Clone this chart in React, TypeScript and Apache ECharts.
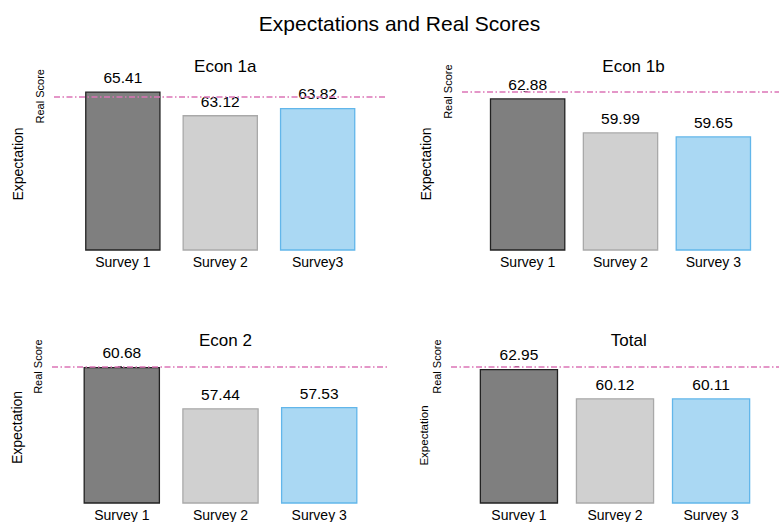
import React, { useEffect, useRef } from "react";
import * as echarts from "echarts";

// ---- data ----
const mainTitle = "Expectations and Real Scores";
const panelTitles = ["Econ 1a", "Econ 1b", "Econ 2", "Total"];
const categoriesEcon1a = ["Survey 1", "Survey 2", "Survey3"];
const categories = ["Survey 1", "Survey 2", "Survey 3"];
const econ1a = [65.41, 63.12, 63.82];
const econ1b = [62.88, 59.99, 59.65];
const econ2 = [60.68, 57.44, 57.53];
const total = [62.95, 60.12, 60.11];
const realScores = [64.95, 63.44, 60.7, 63.17];
const yAxisName = "Expectation";
const realScoreLabel = "Real Score";

// ---- layout / style ----
const FONT = "'Liberation Sans', Arial, Helvetica, sans-serif";
const panels = [
  { values: econ1a, cats: categoriesEcon1a, left: 54, width: 332.5, top: 78, height: 172, yMax: 66.73, nameSize: 14, nameGap: 29, namePad: [0, 0, 0, 0] },
  { values: econ1b, cats: categories, left: 462, width: 333, top: 78, height: 172, yMax: 64.6, nameSize: 14, nameGap: 29, namePad: [0, 0, 0, 0] },
  { values: econ2, cats: categories, left: 52, width: 337, top: 352, height: 151.3, yMax: 61.85, nameSize: 14, nameGap: 28, namePad: [0, 0, 0, 0] },
  { values: total, cats: categories, left: 451, width: 345.5, top: 352, height: 151.3, yMax: 64.58, nameSize: 11.5, nameGap: 16, namePad: [0, 16, 0, 0] },
];
const barStyles = [
  { color: "#7f7f7f", borderColor: "#222222" },
  { color: "#d0d0d0", borderColor: "#a9a9a9" },
  { color: "#aad8f3", borderColor: "#62b6ea" },
];
const X_MIN = -0.707;
const X_MAX = 2.707;

export default function App() {
  const ref = useRef<HTMLDivElement>(null);
  useEffect(() => {
    if (!ref.current) return;
    const chart = echarts.init(ref.current, undefined, { renderer: "svg" });
    const titles: any[] = [
      {
        text: mainTitle,
        left: 394.5,
        textAlign: "center",
        top: 8,
        textStyle: { fontFamily: FONT, fontSize: 21, fontWeight: "normal", color: "#000" },
      },
    ];
    const grids: any[] = [];
    const xAxes: any[] = [];
    const yAxes: any[] = [];
    const series: any[] = [];
    panels.forEach((p, i) => {
      const spacing = p.width / (X_MAX - X_MIN);
      titles.push({
        text: panelTitles[i],
        left: p.left + p.width / 2,
        textAlign: "center",
        top: p.top - 25,
        textStyle: { fontFamily: FONT, fontSize: 17, fontWeight: "normal", color: "#000" },
      });
      grids.push({ left: p.left, top: p.top, width: p.width, height: p.height, containLabel: false });
      xAxes.push({
        type: "value",
        gridIndex: i,
        min: X_MIN,
        max: X_MAX,
        axisLine: { show: false },
        axisTick: { show: false },
        splitLine: { show: false },
        axisLabel: {
          customValues: [0, 1, 2],
          formatter: (v: number) => p.cats[Math.round(v)],
          fontFamily: FONT,
          fontSize: 14,
          color: "#000",
          margin: 5,
        },
      });
      yAxes.push({
        type: "value",
        gridIndex: i,
        min: 50,
        max: p.yMax,
        name: yAxisName,
        nameLocation: "middle",
        nameRotate: 90,
        nameGap: p.nameGap,
        nameTextStyle: { fontFamily: FONT, fontSize: p.nameSize, color: "#000", padding: p.namePad },
        axisLine: { show: false },
        splitLine: { show: false },
        axisTick: {
          show: true,
          customValues: [realScores[i]],
          length: 4,
          lineStyle: { color: "#333", width: 1 },
        },
        axisLabel: {
          customValues: [realScores[i]],
          formatter: () => realScoreLabel,
          rotate: 90,
          fontFamily: FONT,
          fontSize: 11,
          color: "#000",
          margin: 9,
        },
      });
      series.push({
        type: "bar",
        xAxisIndex: i,
        yAxisIndex: i,
        barWidth: spacing * 0.775,
        data: p.values.map((v, k) => ({
          value: [k, v],
          itemStyle: { color: barStyles[k].color, borderColor: barStyles[k].borderColor, borderWidth: 1.3 },
        })),
        label: {
          show: true,
          position: "top",
          distance: 6,
          fontFamily: FONT,
          fontSize: 15.5,
          color: "#000",
          formatter: (d: any) => d.value[1].toFixed(2),
        },
        markLine: {
          silent: true,
          symbol: "none",
          label: { show: false },
          lineStyle: { color: "#dc74b6", width: 1.6, type: [6, 2.5, 1.5, 2.5] },
          data: [{ yAxis: realScores[i] }],
        },
      });
    });
    chart.setOption({
      animation: false,
      backgroundColor: "#fff",
      textStyle: { fontFamily: FONT },
      title: titles,
      grid: grids,
      xAxis: xAxes,
      yAxis: yAxes,
      series,
    });
    return () => chart.dispose();
  }, []);
  return (
    <div
      ref={ref}
      style={{ position: "absolute", left: 0, top: 0, width: 779, height: 522, background: "#fff" }}
    />
  );
}
